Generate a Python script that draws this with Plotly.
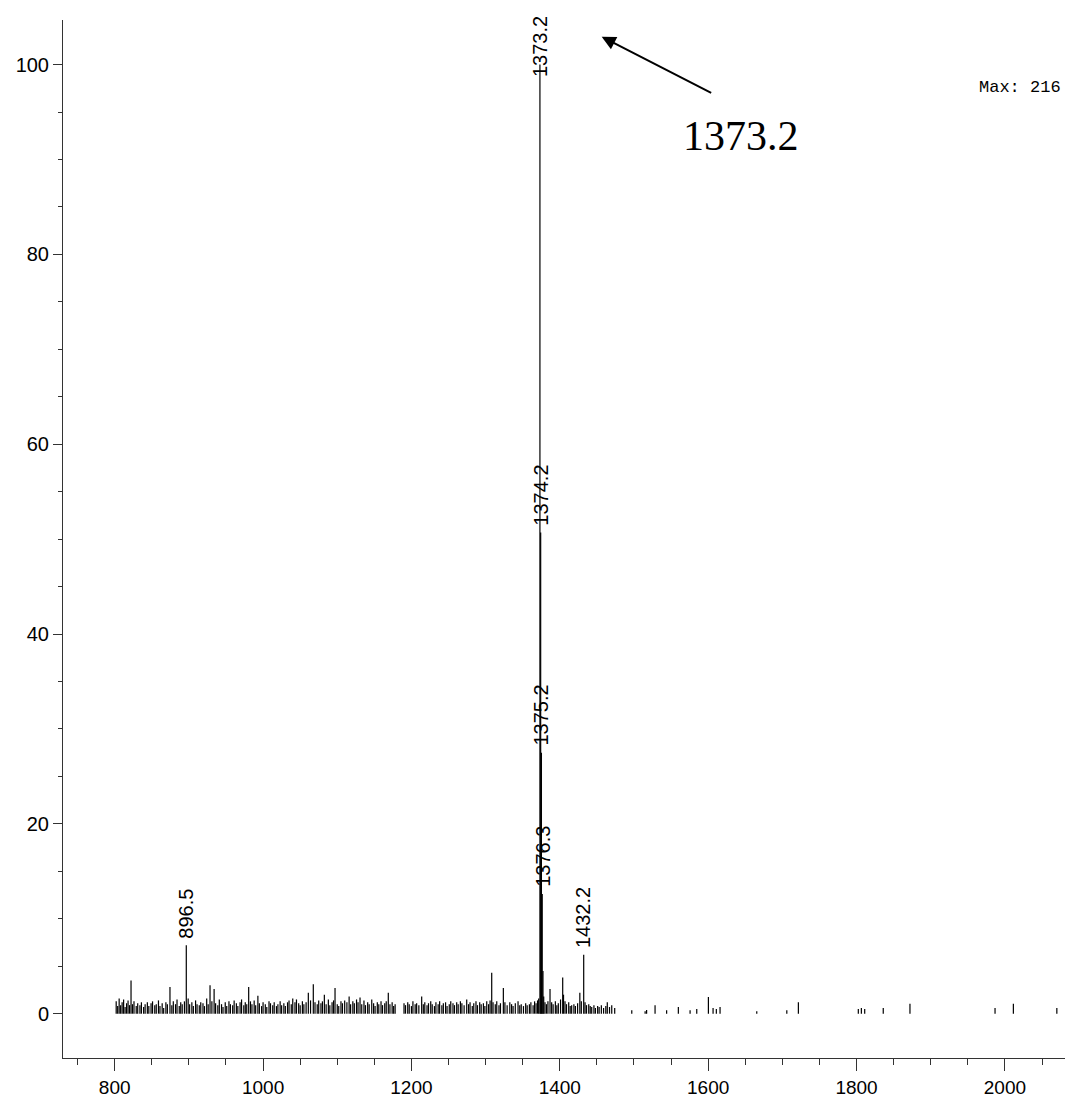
import plotly.graph_objects as go

# ---- data (m/z, relative intensity %) ----
labeled_mz = [896.5, 1373.2, 1374.2, 1375.2, 1376.3, 1432.2]
labeled_int = [7.2, 100.0, 50.7, 27.5, 12.6, 6.2]
labeled_text = ["896.5", "1373.2", "1374.2", "1375.2", "1376.3", "1432.2"]

noise_mz = [
    802, 804, 806, 808, 810, 812, 814, 816, 818, 820,
    822, 824, 826, 829, 831, 834, 836, 839, 841, 844,
    846, 849, 851, 854, 856, 859, 861, 864, 866, 869,
    871, 874.5, 877, 879, 882, 884, 887, 889, 891, 894,
    899, 901, 904, 906, 909, 911, 914, 916, 919, 921,
    924, 926, 928.5, 931, 934, 936, 939, 941, 944, 946,
    949, 951, 954, 956, 959, 961, 964, 966, 969, 971,
    974, 976, 978, 980.6, 983, 985, 988, 990, 993, 995,
    998, 1000, 1003, 1005, 1008, 1010, 1013, 1015, 1018, 1020,
    1023, 1025, 1028, 1030, 1033, 1035, 1038, 1040, 1043, 1045,
    1048, 1050, 1053, 1055, 1058, 1061, 1064, 1067.7, 1070, 1073,
    1075, 1078, 1080, 1082.6, 1085, 1088, 1090, 1093, 1095, 1097,
    1100, 1102, 1105, 1107, 1110, 1113, 1116, 1118, 1121, 1123,
    1126, 1128, 1130.7, 1133, 1136, 1138, 1141, 1143, 1146.5, 1149,
    1151, 1154, 1156, 1159, 1161, 1164, 1166, 1168.8, 1171, 1174,
    1176, 1178, 1190, 1192, 1195, 1197, 1200, 1202, 1205,
    1207, 1210, 1213.8, 1216, 1218, 1221, 1223, 1226, 1228, 1231,
    1233, 1236, 1238, 1241, 1243, 1246, 1248, 1251, 1253, 1256,
    1258, 1261, 1263, 1266, 1268, 1271, 1274.5, 1277, 1279, 1282,
    1284, 1287, 1289, 1292, 1294, 1297, 1299, 1301.5, 1304, 1306,
    1308.2, 1310, 1313, 1315, 1318, 1320, 1323.9, 1326, 1329, 1332.6,
    1335, 1337, 1340, 1343.7, 1346, 1348, 1351, 1354, 1356, 1359,
    1361, 1364, 1366, 1368, 1370, 1371.5,
    1377.3, 1378.3, 1380, 1382, 1384, 1386.8, 1389, 1391, 1394, 1396,
    1398, 1401, 1403.9, 1405, 1407, 1409, 1412, 1414, 1416, 1419,
    1421, 1424, 1427, 1429, 1434, 1436, 1439, 1441, 1443, 1446,
    1448, 1451, 1453, 1456, 1459, 1462, 1464, 1467, 1470, 1474,
    1497, 1515, 1517, 1528.4, 1544, 1559.8, 1575.6, 1584.6, 1600.3, 1606.6,
    1611, 1616, 1665.5, 1706, 1721.6, 1802.4, 1806.5, 1811, 1836, 1872,
    1986.7, 2011.4, 2070,
]
noise_int = [
    1.3, 0.8, 1.6, 0.9, 1.2, 1.5, 0.7, 1.1, 1.4, 0.9,
    3.5, 1.0, 1.3, 0.8, 1.1, 0.9, 1.2, 0.7, 1.0, 1.2,
    0.8, 1.1, 1.3, 0.9, 1.0, 1.4, 0.8, 1.1, 0.6, 1.2,
    1.0, 2.8, 0.9, 1.3, 1.0, 1.5, 0.8, 1.2, 1.0, 1.3,
    1.6, 1.0, 1.2, 0.8, 1.4, 1.0, 0.9, 1.2, 1.1, 0.8,
    1.6, 1.0, 3.0, 1.3, 2.6, 1.1, 0.9, 1.5, 1.0, 0.7,
    1.2, 0.8, 1.3, 1.0, 0.9, 1.4, 1.1, 0.8, 1.2, 1.5,
    0.9, 1.2, 1.0, 2.8, 1.3, 1.0, 1.4, 0.9, 1.9, 1.1,
    0.8, 1.2, 1.0, 0.7, 1.3, 1.1, 0.9, 1.2, 0.8, 1.0,
    1.3, 0.9, 1.1, 0.8, 1.2, 1.4, 1.0, 1.6, 1.2, 1.5,
    1.1, 0.9, 1.3, 1.0, 1.2, 2.2, 1.4, 3.1, 1.2, 1.0,
    1.4, 1.1, 1.3, 2.0, 1.0, 1.5, 0.9, 1.2, 1.4, 2.7,
    1.0, 0.8, 1.3, 1.1, 1.4, 1.2, 1.8, 1.0, 1.3, 1.1,
    1.5, 1.2, 1.7, 1.0, 1.4, 0.9, 1.2, 1.0, 1.5, 1.1,
    0.8, 1.2, 1.0, 1.3, 0.9, 1.1, 1.3, 2.2, 1.0, 1.2,
    0.8, 1.0, 1.1, 0.9, 1.2, 1.0, 0.8, 1.3, 1.0,
    1.1, 0.9, 1.8, 1.0, 1.2, 0.9, 1.1, 1.3, 1.0, 0.8,
    1.2, 1.0, 1.3, 0.9, 1.1, 1.2, 0.8, 1.0, 1.3, 1.1,
    0.9, 1.2, 1.0, 1.3, 1.1, 0.9, 1.5, 1.0, 1.2, 0.8,
    1.1, 1.3, 0.9, 1.2, 1.0, 1.1, 0.8, 1.3, 1.0, 1.4,
    4.3, 1.2, 1.0, 1.3, 0.9, 1.1, 2.7, 1.2, 0.9, 1.2,
    1.0, 0.8, 1.1, 1.3, 0.9, 1.0, 0.8, 1.1, 0.9, 1.0,
    1.2, 0.9, 1.3, 1.1, 1.4, 1.6,
    4.5, 1.8, 1.2, 1.0, 1.3, 2.6, 1.2, 1.0, 1.3, 0.9,
    1.1, 1.5, 3.8, 2.0, 1.3, 1.0, 1.2, 0.8, 0.9, 1.0,
    0.8, 1.1, 2.2, 1.3, 1.2, 0.9, 1.0, 0.8, 0.7, 0.9,
    0.6, 0.8, 0.7, 0.9, 0.6, 0.8, 1.2, 0.7, 0.9, 0.6,
    0.35, 0.25, 0.4, 0.9, 0.35, 0.7, 0.35, 0.5, 1.75, 0.6,
    0.5, 0.7, 0.25, 0.35, 1.2, 0.5, 0.6, 0.5, 0.6, 1.05,
    0.6, 1.05, 0.6,
]

x_ticks = [800, 1000, 1200, 1400, 1600, 1800, 2000]
y_ticks = [0, 20, 40, 60, 80, 100]
max_text = "Max: 216"
arrow_text = "1373.2"

# ---- build stick spectrum ----
all_mz = noise_mz + labeled_mz
all_int = noise_int + labeled_int
xs, ys = [], []
for m, h in zip(all_mz, all_int):
    xs += [m, m, None]
    ys += [0, h, None]

fig = go.Figure()
fig.add_trace(go.Scatter(x=xs, y=ys, mode="lines",
                         line=dict(color="black", width=1.2),
                         hoverinfo="skip", showlegend=False))

# peak labels (rotated)
for m, h, t in zip(labeled_mz, labeled_int, labeled_text):
    fig.add_annotation(x=m, y=min(h, 98.0), text=t, showarrow=False,
                       textangle=-90, xanchor="center", yanchor="bottom",
                       yshift=5, font=dict(family="Liberation Sans, Arial", size=20, color="black"))

# arrow pointing to main peak
fig.add_annotation(xref="paper", yref="paper", x=0.5376, y=0.9839,
                   ax=111, ay=57, text="", showarrow=True,
                   arrowhead=2, arrowsize=1.4, arrowwidth=2, arrowcolor="black",
                   standoff=0)
fig.add_annotation(xref="paper", yref="paper", x=0.6766, y=0.8885,
                   text=arrow_text, showarrow=False, xanchor="center", yanchor="middle",
                   font=dict(family="Liberation Serif, Times New Roman", size=42, color="black"))
fig.add_annotation(xref="paper", yref="paper", x=0.998, y=0.9346,
                   text=max_text, showarrow=False, xanchor="right", yanchor="middle",
                   font=dict(family="Liberation Mono, Courier New", size=17, color="black"))

fig.update_xaxes(range=[730.3, 2081], tickvals=x_ticks, ticktext=[str(v) for v in x_ticks],
                 ticks="outside", ticklen=12, tickwidth=1, tickcolor="#333",
                 automargin=False,
                 showline=True, linecolor="#333", linewidth=1,
                 showgrid=False, zeroline=False,
                 minor=dict(dtick=50, tick0=0, ticks="outside", ticklen=6, tickcolor="#333", showgrid=False),
                 tickfont=dict(family="Liberation Sans, Arial", size=19, color="black"))
fig.update_yaxes(range=[-4.67, 104.7], tickvals=y_ticks, ticktext=[str(v) for v in y_ticks],
                 ticks="outside", ticklen=9, tickwidth=1, tickcolor="#333",
                 automargin=False,
                 showline=True, linecolor="#333", linewidth=1,
                 showgrid=False, zeroline=False,
                 minor=dict(dtick=5, tick0=0, ticks="outside", ticklen=4, tickcolor="#333", showgrid=False),
                 tickfont=dict(family="Liberation Sans, Arial", size=20, color="black"))

fig.update_layout(width=1065, height=1097, autosize=False,
                  margin=dict(l=63, r=0, t=20, b=39),
                  plot_bgcolor="white", paper_bgcolor="white",
                  showlegend=False)

fig.write_html("out.html")
